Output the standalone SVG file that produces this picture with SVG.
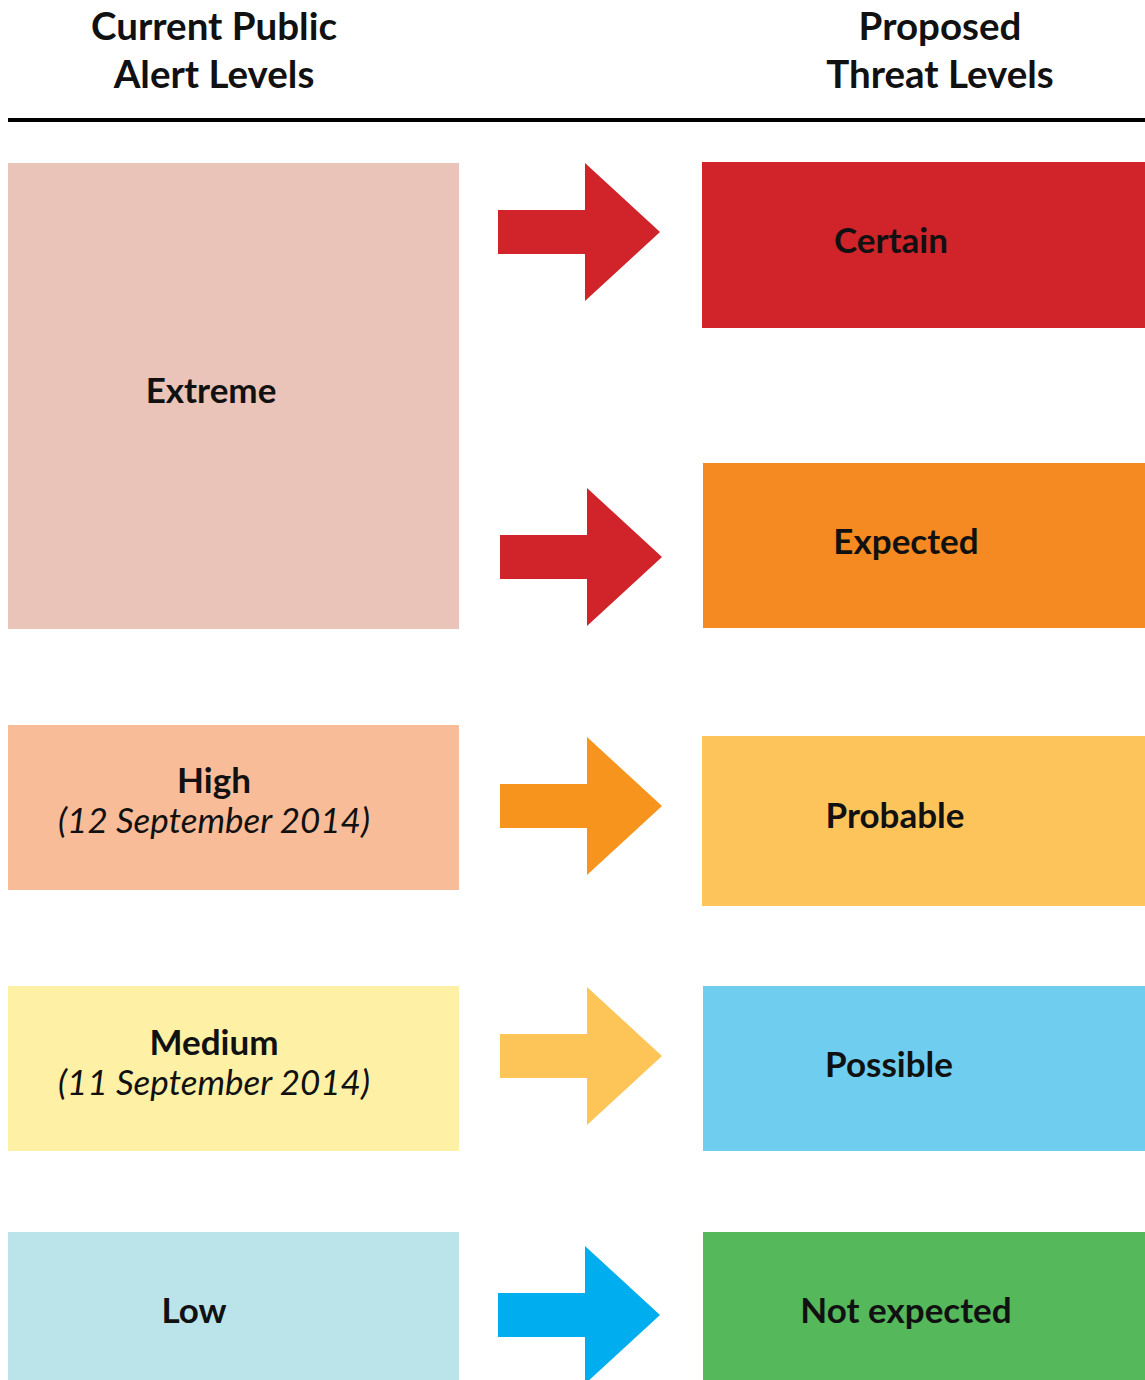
<svg xmlns="http://www.w3.org/2000/svg" width="1145" height="1380" viewBox="0 0 1145 1380">
<style>
.t{font-family:Lato,"Liberation Sans",sans-serif;font-weight:bold;font-size:35px;fill:#111;text-anchor:middle}
.h{font-size:38.5px}
.i{font-family:Lato,"Liberation Sans",sans-serif;font-style:italic;font-size:35px;fill:#111;text-anchor:middle}
</style>
<defs>
<path id="arr" d="M0,-22 H87 V-69 L162,0 L87,69 V22 H0 Z"/>
</defs>
<rect width="1145" height="1380" fill="#fff"/>
<g id="header">
<text class="t h" x="214" y="40">Current Public</text>
<text class="t h" x="214" y="88">Alert Levels</text>
<text class="t h" x="940" y="40">Proposed</text>
<text class="t h" x="940" y="88">Threat Levels</text>
<rect x="8" y="118" width="1137" height="4" fill="#000"/>
</g>
<g id="extreme"><rect x="8" y="163" width="451" height="466" fill="#EAC4B8"/><text class="t" x="211" y="403">Extreme</text></g>
<g id="high"><rect x="8" y="725" width="451" height="165" fill="#F9BC98"/><text class="t" x="214" y="793">High</text><text class="i" x="214" y="833">(12 September 2014)</text></g>
<g id="medium"><rect x="8" y="986" width="451" height="165" fill="#FEF0A4"/><text class="t" x="214" y="1055">Medium</text><text class="i" x="214" y="1095">(11 September 2014)</text></g>
<g id="low"><rect x="8" y="1232" width="451" height="148" fill="#BAE3EA"/><text class="t" x="194" y="1323">Low</text></g>
<g id="certain"><rect x="702" y="162" width="443" height="166" fill="#D0232A"/><text class="t" x="891" y="253">Certain</text></g>
<g id="expected"><rect x="703" y="463" width="442" height="165" fill="#F58A22"/><text class="t" x="906" y="554">Expected</text></g>
<g id="probable"><rect x="702" y="736" width="443" height="170" fill="#FEC45C"/><text class="t" x="895" y="828">Probable</text></g>
<g id="possible"><rect x="703" y="986" width="442" height="165" fill="#6FCDEF"/><text class="t" x="889" y="1077">Possible</text></g>
<g id="notexpected"><rect x="703" y="1232" width="442" height="148" fill="#55B85A"/><text class="t" x="906" y="1323">Not expected</text></g>
<g id="connectors">
<use href="#arr" transform="translate(498,232)" fill="#D0232A"/>
<use href="#arr" transform="translate(500,557)" fill="#D0232A"/>
<use href="#arr" transform="translate(500,806)" fill="#F7941D"/>
<use href="#arr" transform="translate(500,1056)" fill="#FDC457"/>
<use href="#arr" transform="translate(498,1315)" fill="#00AEEF"/>
</g>
</svg>
